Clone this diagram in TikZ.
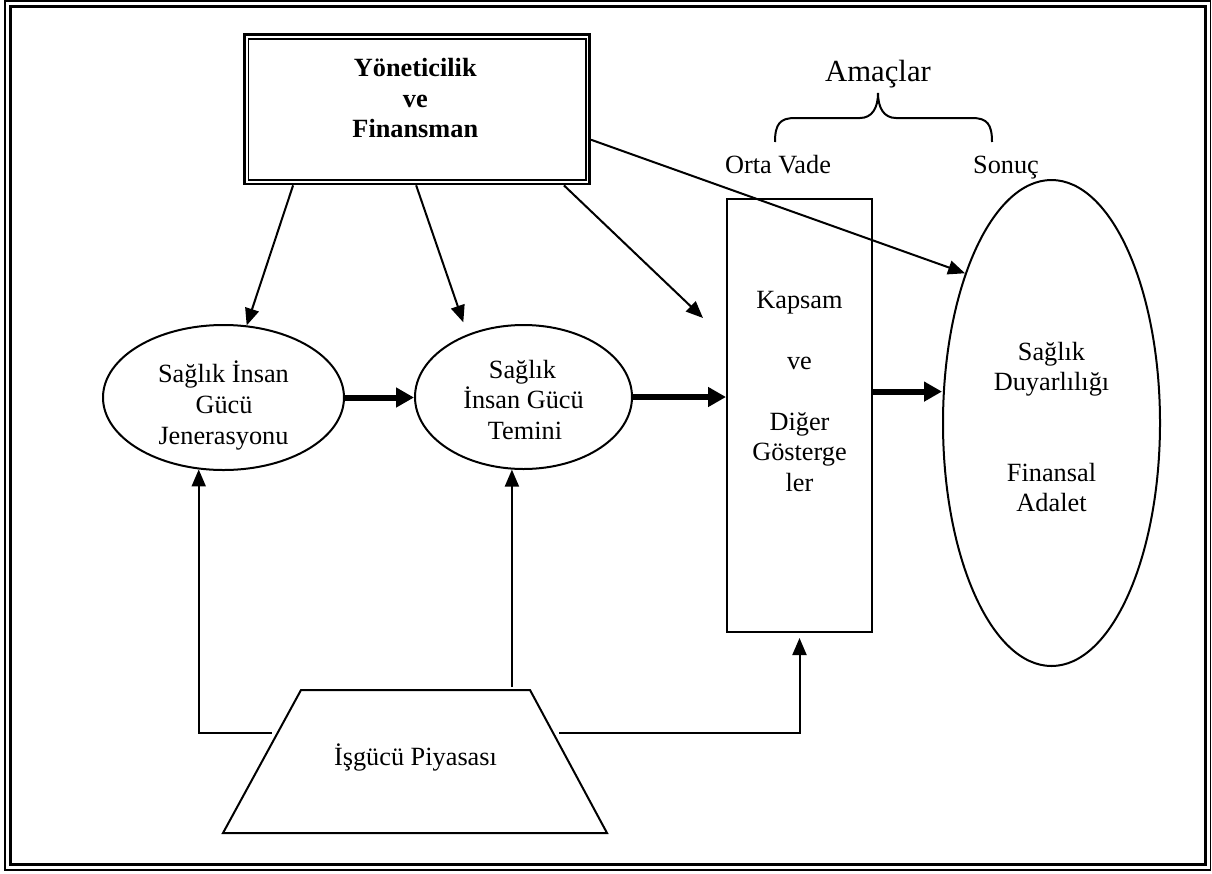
\documentclass[tikz,border=0pt]{standalone}
\usepackage{fontspec}
\setmainfont{Liberation Serif}
\usetikzlibrary{arrows.meta,calc,shapes.geometric}

\newcommand\txtsize{\fontsize{26.3}{30.5}\selectfont}

\begin{document}
\begin{tikzpicture}[x=1pt,y=-1pt,
  lbl/.style={anchor=base,inner sep=0pt,font=\txtsize},
  blbl/.style={anchor=base,inner sep=0pt,font=\txtsize\bfseries},
  oval/.style={draw,ellipse,line width=2pt,inner sep=0pt},
  thinarrow/.style={line width=2pt,-{Triangle[length=17pt,width=14pt]}},
  thickarrow/.style={line width=6pt,-{Triangle[length=18pt,width=19pt]}}]
\useasboundingbox (0,0) rectangle (1212,873);

% page frame: thin outer line, thick inner line
\draw[line width=1.5pt] (5,1.2) rectangle (1210.5,870);
\draw[line width=3pt] (10.5,6) rectangle (1205,864.5);

% governance box with double border
\node[draw,line width=2.7pt,minimum width=345pt,minimum height=149.3pt,inner sep=0pt]
  (gov) at (417.2,109.35) {};
\draw[line width=1.5pt] ([xshift=5.2pt,yshift=-5.6pt]gov.north west)
  rectangle ([xshift=-5.2pt,yshift=5.6pt]gov.south east);
\node[blbl] (gov1) at (415.3,76.7) {Yöneticilik};
\node[blbl] (gov2) at (415.3,107.3) {ve};
\node[blbl] (gov3) at (415.3,137.7) {Finansman};

% goals heading with brace
\node[anchor=base,inner sep=0pt,font=\fontsize{30.7}{34}\selectfont] (goal) at (878,81.7) {Amaçlar};
\draw[line width=2pt] (775,142) .. controls (775,124) and (780,118) .. (795,118) -- (860,118)
  .. controls (872,118) and (878,108) .. (878,93)
  .. controls (878,108) and (884,118) .. (896,118) -- (972,118)
  .. controls (987,118) and (992,124) .. (992,142);
\node[lbl] (mid) at (778,173.3) {Orta Vade};
\node[lbl] (res) at (1006,173.3) {Sonuç};

% workforce generation
\node[oval,minimum width=241pt,minimum height=145pt] (e1) at (223.5,397.5) {};
\node[lbl] (e1a) at (223.5,382) {Sağlık İnsan};
\node[lbl] (e1b) at (224,413) {Gücü};
\node[lbl] (e1c) at (223.5,444) {Jenerasyonu};

% workforce supply
\node[oval,minimum width=217pt,minimum height=144pt] (e2) at (523.5,397) {};
\node[lbl] (e2a) at (522.5,378) {Sağlık};
\node[lbl] (e2b) at (523.5,408.5) {İnsan Gücü};
\node[lbl] (e2c) at (525,439) {Temini};

% coverage and other indicators
\node[draw,line width=2pt,minimum width=145pt,minimum height=433pt,inner sep=0pt]
  (cov) at (799.5,415.5) {};
\node[lbl] (cova) at (799.5,308) {Kapsam};
\node[lbl] (covb) at (799.5,369) {ve};
\node[lbl] (covc) at (799.5,430) {Diğer};
\node[lbl] (covd) at (799.5,460.5) {Gösterge};
\node[lbl] (cove) at (799.5,491) {ler};

% outcomes
\node[oval,minimum width=217pt,minimum height=486pt] (out) at (1051.5,423) {};
\node[lbl] (outa) at (1051.5,360) {Sağlık};
\node[lbl] (outb) at (1051.5,390.5) {Duyarlılığı};
\node[lbl] (outc) at (1051.5,481) {Finansal};
\node[lbl] (outd) at (1051.5,511.5) {Adalet};

% labour market
\coordinate (tl) at (301,690);
\coordinate (tr) at (530,690);
\coordinate (br) at (607,833);
\coordinate (bl) at (223,833);
\draw[line width=2pt,line join=miter] (tl) -- (tr) -- (br) -- (bl) -- cycle;
\node[lbl] (lab) at (415.5,765) {İşgücü Piyasası};
\coordinate (labL) at ($(bl)!0.699!(tl)$);
\coordinate (labR) at ($(br)!0.699!(tr)$);
\coordinate (labT) at ($(tl)!0.921!(tr)$);

% influence of governance and financing
\draw[thinarrow] ($(gov.south west)!0.143!(gov.south east)$) -- ($(e1.north)+(23.2,1.4)$);
\draw[thinarrow] ($(gov.south west)!0.497!(gov.south east)$) -- ($(e2.north)+(-60.2,-1.7)$);
\draw[thinarrow] ($(gov.south west)!0.922!(gov.south east)$) -- ($(cov.north west)+(-23,120)$);
\draw[thinarrow] ($(gov.north east)!0.70!(gov.south east)$) -- (out.120);

% main chain
\draw[thickarrow] (e1.east) -- (e1.east -| e2.west);
\draw[thickarrow] (e2.east) -- (e2.east -| cov.west);
\coordinate (k3) at ($(cov.north east)!0.445!(cov.south east)$);
\draw[thickarrow] (k3) -- (k3 -| out.west);

% labour market feeds
\draw[thinarrow,shorten <=5.5pt] (labL) -| (e1.251.6);
\draw[thinarrow,shorten <=3pt] (labT) -- (labT |- e2.261);
\draw[thinarrow,shorten <=6pt,shorten >=5pt] (labR) -| (cov.south);
\end{tikzpicture}
\end{document}
